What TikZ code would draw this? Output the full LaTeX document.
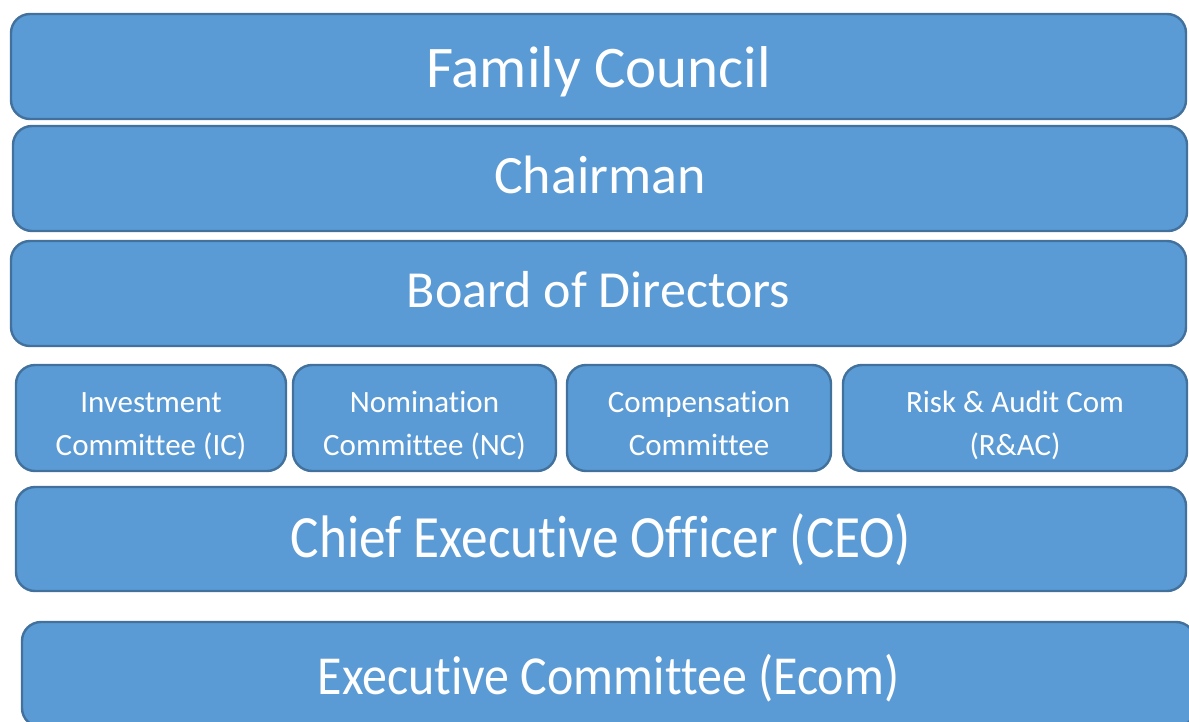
\documentclass[tikz,border=0pt]{standalone}
\usepackage{fontspec}
\usepackage{graphicx}
\setmainfont[Ligatures=NoCommon]{Carlito}
\usetikzlibrary{positioning}

\definecolor{tierblue}{HTML}{5B9BD5}
\definecolor{tierline}{HTML}{41719C}

\tikzset{
    tier/.style={draw=tierline, fill=tierblue, line width=2.4pt,
        rounded corners=19pt, text=white, inner sep=0pt, text depth=0pt},
    comm/.style={tier, align=center, minimum width=262pt, minimum height=106pt,
        font=\fontsize{31}{43}\selectfont, text height=74pt, text depth=0pt},
}

\begin{document}
\begin{tikzpicture}[x=1pt, y=-1pt]
\clip (0,0) rectangle (1189,721);
\fill[white] (0,0) rectangle (1189,721);

% governance layers, top to bottom
\node[tier, minimum width=1175pt, minimum height=105pt, text height=41pt,
    font=\fontsize{59}{70}\selectfont] (fam) at (598.5,66.5) {Family Council};
\node[tier, minimum width=1174pt, minimum height=105pt, text height=29pt,
    font=\fontsize{54}{64}\selectfont] (chair) at (600,178.5) {Chairman};
\node[tier, minimum width=1175pt, minimum height=105pt, text height=27pt,
    font=\fontsize{52}{62}\selectfont] (bod) at (598.5,293.5) {Board of Directors};

% board committees
\node[comm, minimum width=270pt] (ic) at (151,418) {Investment\\Committee (IC)};
\node[comm, minimum width=263pt] (nc) at (424.5,418) {Nomination\\Committee (NC)};
\node[comm, minimum width=264pt] (cc) at (699,418) {Compensation\\Committee};
\node[comm, minimum width=344pt] (rac) at (1015,418) {Risk \& Audit Com\\(R\&AC)};

\node[tier, minimum width=1170pt, minimum height=104pt, text height=36pt,
    font=\fontsize{60}{70}\selectfont] (ceo) at (601,539)
    {\scalebox{0.888}[1]{Chief Executive Officer (CEO)}};
\node[tier, minimum width=1173pt, minimum height=105pt, text height=39pt,
    font=\fontsize{55}{65}\selectfont] (ecom) at (608.5,674.5)
    {\scalebox{0.908}[1]{Executive Committee (Ecom)}};

\end{tikzpicture}
\end{document}
